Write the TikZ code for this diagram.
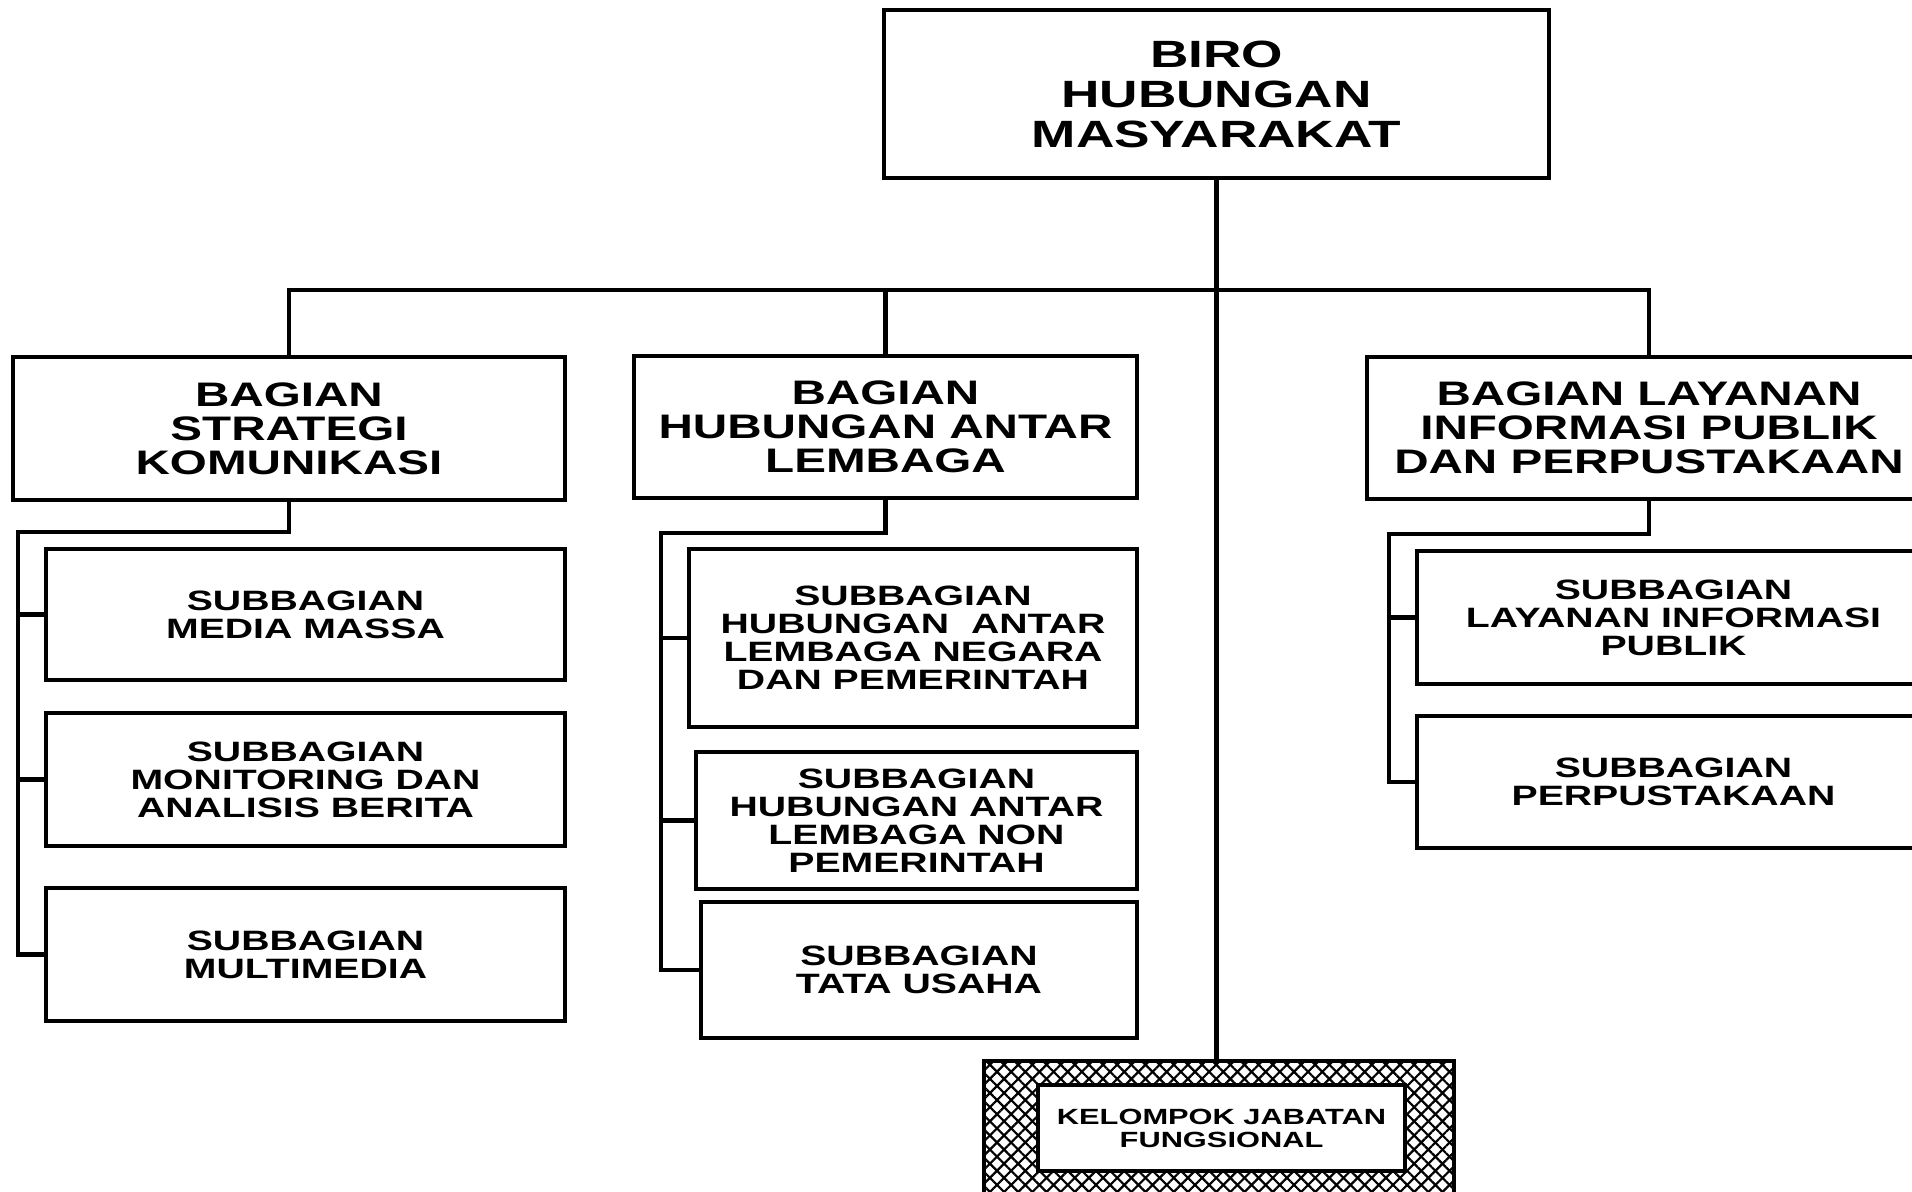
\documentclass[tikz,border=0pt]{standalone}
\usepackage{fontspec}
\newfontfamily\orgfont{Liberation Sans}[FakeStretch=1.4]
\usetikzlibrary{patterns.meta}
\begin{document}
\begin{tikzpicture}[x=0.5pt,y=-0.5pt,
  line width=2.1pt,
  box/.style={draw, line width=2.1pt, fill=white, align=center, inner sep=0pt,
    font=\orgfont\bfseries\fontsize{14}{14}\selectfont},
  bigbox/.style={box, font=\orgfont\bfseries\fontsize{17}{17}\selectfont},
  topbox/.style={box, font=\orgfont\bfseries\fontsize{19}{20}\selectfont},
  kelbox/.style={draw, line width=2.1pt, inner sep=0pt,
    pattern={Lines[angle=45,distance=5pt,line width=1.1pt]},
    postaction={pattern={Lines[angle=-45,distance=5pt,line width=1.1pt]}}},
  kelin/.style={box, font=\orgfont\bfseries\fontsize{11}{11.5}\selectfont}
]
\useasboundingbox (0,0) rectangle (1912,1192);
\clip (0,0) rectangle (1912,1192);
\fill[white] (0,0) rectangle (1912,1192);

% top
\node[topbox, minimum width=332.5pt, minimum height=84pt] (top) at (1216.5,94) {BIRO\\HUBUNGAN\\MASYARAKAT};

% bagian
\node[bigbox, minimum width=276pt, minimum height=71.5pt] (b1) at (289,428.5) {BAGIAN\\STRATEGI\\KOMUNIKASI};
\node[bigbox, minimum width=251.5pt, minimum height=71pt] (b2) at (885.5,427) {BAGIAN\\HUBUNGAN ANTAR\\LEMBAGA};
\node[bigbox, minimum width=282pt, minimum height=71pt] (b3) at (1649,428) {BAGIAN LAYANAN\\INFORMASI PUBLIK\\DAN PERPUSTAKAAN};

% sub left
\node[box, minimum width=259.5pt, minimum height=65.5pt] (s11) at (305.5,614.5) {SUBBAGIAN\\MEDIA MASSA};
\node[box, minimum width=259.5pt, minimum height=66.5pt] (s12) at (305.5,779.5) {SUBBAGIAN\\MONITORING DAN\\ANALISIS BERITA};
\node[box, minimum width=259.5pt, minimum height=66.5pt] (s13) at (305.5,954.5) {SUBBAGIAN\\MULTIMEDIA};

% sub middle
\node[box, minimum width=224pt, minimum height=89pt] (s21) at (913,638) {SUBBAGIAN\\HUBUNGAN\ \ ANTAR\\LEMBAGA NEGARA\\DAN PEMERINTAH};
\node[box, minimum width=220.5pt, minimum height=68.5pt] (s22) at (916.5,820.5) {SUBBAGIAN\\HUBUNGAN ANTAR\\LEMBAGA NON\\PEMERINTAH};
\node[box, minimum width=218pt, minimum height=68pt] (s23) at (919,970) {SUBBAGIAN\\TATA USAHA};

% sub right
\node[box, minimum width=256.5pt, minimum height=66.5pt] (s31) at (1673.5,617.5) {SUBBAGIAN\\LAYANAN INFORMASI\\PUBLIK};
\node[box, minimum width=256.5pt, minimum height=66pt] (s32) at (1673.5,782) {SUBBAGIAN\\PERPUSTAKAAN};

% kelompok
\node[kelbox, minimum width=235pt, minimum height=69.5pt] (kel) at (1219,1130.5) {};
\node[kelin, minimum width=183.5pt, minimum height=43pt] (kelin) at (1221.5,1128) {KELOMPOK JABATAN\\FUNGSIONAL};

% connectors
\coordinate (bus) at (0,290);
\draw (top.south) -- (top.south |- kel.north);
\draw (b1.north) |- (bus -| b3.north) -- (b3.north);
\draw (b2.north) -- (b2.north |- bus);

\coordinate (l1) at (18,532);
\draw (b1.south) |- (l1) -- (l1 |- s13.west) -- (s13.west);
\draw (l1 |- s11.west) -- (s11.west);
\draw (l1 |- s12.west) -- (s12.west);

\coordinate (l2) at (661,533);
\draw (b2.south) |- (l2) -- (l2 |- s23.west) -- (s23.west);
\draw (l2 |- s21.west) -- (s21.west);
\draw (l2 |- s22.west) -- (s22.west);

\coordinate (l3) at (1389,534);
\draw (b3.south) |- (l3) -- (l3 |- s32.west) -- (s32.west);
\draw (l3 |- s31.west) -- (s31.west);
\end{tikzpicture}
\end{document}
